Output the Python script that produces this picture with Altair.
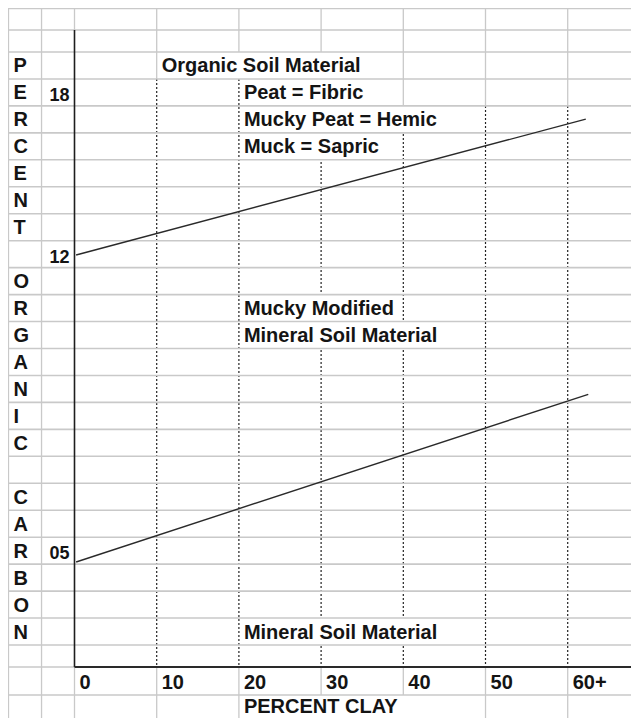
import altair as alt
import pandas as pd

# ---------------- chart values ----------------
clay_values = [0, 10, 20, 30, 40, 50, 60]
clay_labels = ["0", "10", "20", "30", "40", "50", "60+"]

oc_labels = ["18", "12", "05"]
oc_label_rows = [4, 10, 21]

side_letters = ["P", "E", "R", "C", "E", "N", "T", "",
                "O", "R", "G", "A", "N", "I", "C", "",
                "C", "A", "R", "B", "O", "N"]
side_rows = list(range(3, 25))

# boundary lines (x = percent clay, y = spreadsheet row)
upper_clay = [0.2, 62.2]
upper_row = [10.53, 5.49]
lower_clay = [0.2, 62.5]
lower_row = [21.92, 15.7]

zone_texts = ["Organic Soil Material", "Peat = Fibric", "Mucky Peat = Hemic",
              "Muck = Sapric", "Mucky Modified", "Mineral Soil Material",
              "Mineral Soil Material"]
zone_rows = [3, 4, 5, 6, 12, 13, 24]
zone_cols = [10, 20, 20, 20, 20, 20, 20]
zone_cover_end = [40, 40, 50, 40, 40, 50, 50]

title_text = ["PERCENT CLAY"]
title_rows = [27]
title_cols = [20]
title_cover_end = [50]

# spreadsheet grid structure
sheet_cols = [-8.03, -4.01, 0, 10, 20, 30, 40, 50, 60]
sheet_rows = list(range(1, 28))
dotted_cols = [10, 20, 30, 40, 50, 60]
dotted_top = [4, 4, 5, 5, 5, 5]
axis_row = 26
axis_top = 2
last_row = 28
X_MIN, X_MAX = -8.09, 67.70
COVER_INSET = 0.15

# ---------------- tables ----------------
gray_v = []
for c in sheet_cols:
    if c < 0:
        gray_v.append({"x": c, "y": 1, "y2": last_row})
    elif c == 0:
        gray_v.append({"x": c, "y": 1, "y2": axis_top})
        gray_v.append({"x": c, "y": axis_row, "y2": last_row})
for c, t in zip(dotted_cols, dotted_top):
    gray_v.append({"x": c, "y": 1, "y2": t})
    gray_v.append({"x": c, "y": axis_row, "y2": last_row})
gray_v = pd.DataFrame(gray_v)

dotted_v = pd.DataFrame({"x": dotted_cols, "y": dotted_top,
                         "y2": [axis_row] * len(dotted_cols)})

gray_h = pd.DataFrame({
    "y": sheet_rows,
    "x": [X_MIN] * len(sheet_rows),
    "x2": [0 if r == axis_row else X_MAX for r in sheet_rows],
})

covers = pd.DataFrame({
    "x": [c + COVER_INSET for c in zone_cols + title_cols],
    "x2": [e - COVER_INSET for e in zone_cover_end + title_cover_end],
    "y": zone_rows + title_rows,
    "y2": [r + 1 for r in zone_rows + title_rows],
})

yaxis_df = pd.DataFrame({"x": [0], "y": [axis_top], "y2": [axis_row]})
xaxis_df = pd.DataFrame({"y": [axis_row], "x": [0], "x2": [X_MAX]})

lines_df = pd.DataFrame({
    "clay": upper_clay + lower_clay,
    "row": upper_row + lower_row,
    "boundary": ["upper"] * len(upper_clay) + ["lower"] * len(lower_clay),
})

zone_df = pd.DataFrame({"text": zone_texts, "x": zone_cols,
                        "y": [r + 1 for r in zone_rows]})
title_df = pd.DataFrame({"text": title_text, "x": title_cols,
                         "y": [r + 1 for r in title_rows]})
xtick_df = pd.DataFrame({"text": clay_labels, "x": clay_values,
                         "y": [axis_row + 1] * len(clay_values)})
side_df = pd.DataFrame({"text": side_letters, "x": [sheet_cols[0]] * len(side_letters),
                        "y": [r + 1 for r in side_rows]})
oc_df = pd.DataFrame({"text": oc_labels, "x": [0] * len(oc_labels),
                      "y": [r + 1 for r in oc_label_rows]})

# ---------------- scales ----------------
xs = alt.Scale(domain=[X_MIN, X_MAX], nice=False, zero=False)
ys = alt.Scale(domain=[1, 2, 3, 25, 26, 27, 28],
               range=[0.5, 22, 44, 637, 659, 687, 718],
               nice=False, zero=False)

GRID = "#c9c9c9"
INK = "#141414"
FONT = "Liberation Sans"

def X(f="x"):
    return alt.X(f"{f}:Q", scale=xs, axis=None)

def Y(f="y"):
    return alt.Y(f"{f}:Q", scale=ys, axis=None)

l_gray_v = alt.Chart(gray_v).mark_rule(color=GRID, strokeWidth=1.3).encode(
    x=X(), y=Y(), y2="y2:Q")
l_dotted = alt.Chart(dotted_v).mark_rule(color="#222222", strokeWidth=1.2,
                                         strokeDash=[2, 2]).encode(
    x=X(), y=Y(), y2="y2:Q")
l_cover = alt.Chart(covers).mark_rect(color="white").encode(
    x=X(), x2="x2:Q", y=Y(), y2="y2:Q")
l_gray_h = alt.Chart(gray_h).mark_rule(color=GRID, strokeWidth=1.6).encode(
    y=Y(), x=X(), x2="x2:Q")
l_yaxis = alt.Chart(yaxis_df).mark_rule(color="#1e1e1e", strokeWidth=1.6).encode(
    x=X(), y=Y(), y2="y2:Q")
l_xaxis = alt.Chart(xaxis_df).mark_rule(color="#2a2a2a", strokeWidth=2.2).encode(
    y=Y(), x=X(), x2="x2:Q")
l_lines = alt.Chart(lines_df).mark_line(color="#2a2a2a", strokeWidth=1.4).encode(
    x=X("clay"), y=Y("row"), detail="boundary:N")

txt = dict(align="left", baseline="alphabetic", font=FONT, color=INK)
l_zone = alt.Chart(zone_df).mark_text(dx=5, dy=-6.5, fontSize=20,
                                      fontWeight="bold", **txt).encode(
    x=X(), y=Y(), text="text:N")
l_title = alt.Chart(title_df).mark_text(dx=5, dy=-13, fontSize=20,
                                        fontWeight="bold", **txt).encode(
    x=X(), y=Y(), text="text:N")
l_xtick = alt.Chart(xtick_df).mark_text(dx=5, dy=-6, fontSize=20,
                                        fontWeight="bold", **txt).encode(
    x=X(), y=Y(), text="text:N")
l_side = alt.Chart(side_df).mark_text(dx=5, dy=-6.5, fontSize=20,
                                      fontWeight="bold", **txt).encode(
    x=X(), y=Y(), text="text:N")
l_oc = alt.Chart(oc_df).mark_text(align="right", baseline="alphabetic", dx=-5, dy=-5,
                                  fontSize=18, fontWeight="bold",
                                  font=FONT, color=INK).encode(
    x=X(), y=Y(), text="text:N")

chart = alt.layer(
    l_gray_v, l_dotted, l_cover, l_gray_h, l_yaxis, l_xaxis, l_lines,
    l_zone, l_title, l_xtick, l_side, l_oc,
).properties(
    width=623, height=710, padding=0,
    autosize=alt.AutoSizeParams(type="none"),
    background="white",
).configure_view(stroke=None)

chart.save("out.html", embed_options={"renderer": "svg", "actions": False})
